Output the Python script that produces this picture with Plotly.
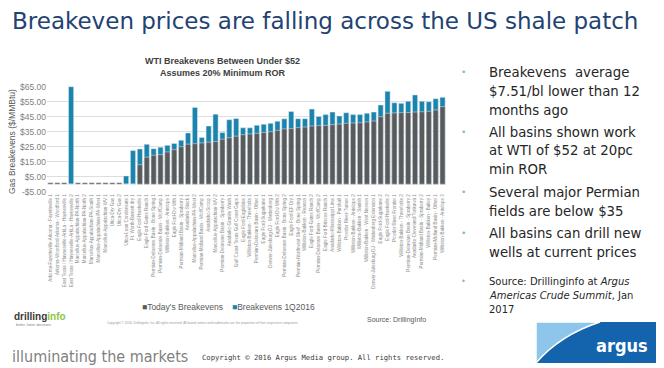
import plotly.graph_objects as go

# The page body adds an 8px margin, so the figure is drawn 8px in from the window corner.
OFF = 8
WIN_W, WIN_H = 664, 368
W, H = WIN_W - OFF, WIN_H - OFF

categories = [
    "Arkoma-Fayetteville-Arkoma - Fayetteville 1", "Arkoma-Woodford-Arkoma - Woodford 1",
    "East Texas / Haynesville-ArkLa - Haynesville 1", "East Texas / Haynesville-ArkLa - Haynesville 2",
    "Marcellus-Appalachian-PA-North 1", "Marcellus-Appalachian-PA-North 2",
    "Marcellus-Appalachian-PA-South 1", "Marcellus-Appalachian-PA-West 1",
    "Marcellus-Appalachian-WV 1", "Utica-Dry Gas 1", "Utica-Dry Gas 2",
    "Utica-Lean Condensate 1", "Ft. Worth-Barnett dry 1", "Eagle Ford-Hawkville 1",
    "Eagle Ford-Gates Ranch 1", "Permian-Delaware Basin - Bone Spring 1",
    "Permian-Delaware Basin - WolfCamp 1", "Williston-Bakken - Antelope 1",
    "Eagle Ford-Dw Wth 1", "Permian-Midland Basin - Spraberry 1", "Anadarko-Stack 1",
    "Marcellus-Appalachian-PA-West 2", "Permian-Midland Basin - WolfCamp 1",
    "Anadarko-Scoop 1", "Marcellus-Appalachian-WV 2", "Permian-Delaware Basin - Spraberry 1",
    "Anadarko-Granite Wash 1", "Gulf Coast-Texas Gulf Coast Gaps 1", "Eagle Ford-Eaglebine 1",
    "Williston-Bakken - Threeforks 1", "Permian-Delaware Basin - Other 1",
    "Eagle Ford-Sugarkane 1", "Denver-Julesburg-DJ - Wattenberg 1", "Eagle Ford-Dw Wth 2",
    "Permian-Delaware Basin - Bone Spring 2", "Eagle Ford-EF Dry 1",
    "Permian-Northwest Shelf - Bone Spring 1", "Williston-Bakken - Reason 1",
    "Eagle Ford-Gates Ranch 2", "Permian-Delaware Basin - WolfCamp 2",
    "Eagle Ford-Briscoe Ranch 1", "Anadarko-Mississippi Lime 1", "Williston-Bakken - Parshall 1",
    "Powder River-Turner 1", "Williston-Bakken - Antelope 2", "Williston-Bakken - Sanish 1",
    "Williston-Bakken - West Nesson 1", "Denver-Julesburg-DJ - Wattenberg Extension 1",
    "Eagle Ford-Sugarkane 2", "Eagle Ford-Hawkville 2", "Powder River-Frontier 1",
    "Williston-Bakken - Threeforks 2", "Permian-Delaware Basin - Spraberry 2",
    "Anadarko-Cleveland/Tonkawa 1", "Permian-Midland Basin - Spraberry 2",
    "Williston-Bakken - Bailey 1", "Permian-Midland Basin - Other 1",
    "Williston-Bakken - Antelope 3",
]

breakevens_1q2016 = [
    None, None, None, 65.0, None, None, None, None, None, None, None,
    5.5, 22.4, 23.5, 26.6, 23.7, 24.6, 25.9, 27.2, 29.3, 34.2,
    51.2, 31.2, 38.8, 46.7, 34.4, 43.0, 43.8, 37.6, 37.6, 39.3,
    40.0, 40.6, 42.0, 43.6, 48.5, 43.7, 43.7, 50.1, 45.2, 46.4,
    48.1, 45.5, 47.7, 46.4, 46.4, 47.3, 48.1, 52.8, 61.9, 54.3,
    53.9, 55.3, 59.5, 55.3, 55.0, 57.0, 57.9,
]

todays_breakevens = [
    1.0, 1.0, 1.0, 0.0, 1.0, 1.0, 1.0, 1.0, 1.0, 1.0, 1.0,
    0.0, 0.0, 13.0, 18.0, 19.3, 19.7, 21.5, 23.0, 25.0, 26.7,
    27.0, 27.5, 28.0, 28.4, 30.0, 31.0, 32.0, 33.0, 33.5, 33.9,
    34.5, 35.0, 35.9, 36.9, 37.1, 37.7, 38.1, 38.8, 39.0, 39.2,
    39.7, 40.1, 40.6, 40.8, 41.0, 41.5, 42.1, 45.0, 47.3, 47.5,
    47.7, 47.8, 48.1, 48.3, 48.6, 49.5, 51.7,
]

y_tick_vals = [-5, 5, 15, 25, 35, 45, 55, 65]
y_tick_text = ["-$5.00", "$5.00", "$15.00", "$25.00", "$35.00", "$45.00", "$55.00", "$65.00"]

bullets = [
    ["Breakevens  average", "$7.51/bl lower than 12", "months ago"],
    ["All basins shown work", "at WTI of $52 at 20pc", "min ROR"],
    ["Several major Permian", "fields are below $35"],
    ["All basins can drill new", "wells at current prices"],
]
source_lines = ["Source: Drillinginfo at <i>Argus</i>", "<i>Americas Crude Summit</i>, Jan", "2017"]

GRAY = "#5a5a5a"
BLUE = "#1b84ad"


def X(px):
    """window pixel x -> paper coordinate"""
    return (px - OFF) / W


def Y(py):
    """window pixel y -> paper coordinate"""
    return 1 - (py - OFF) / H


xs = list(range(len(categories)))

fig = go.Figure()
fig.add_trace(go.Bar(x=xs, y=breakevens_1q2016, marker_color=BLUE, name="Breakevens 1Q2016",
                     showlegend=False))
fig.add_trace(go.Bar(x=xs, y=todays_breakevens, marker_color=GRAY, name="Today's Breakevens",
                     showlegend=False))

# plot area in window pixels
x0, x1 = 47, 446
ymin, ymax = -5.5, 65.5
ppd = 1.5
y_top = 86.7 - (ymax - 65) * ppd
y_bot = 191.7 + (-5 - ymin) * ppd

fig.update_layout(
    width=W, height=H,
    margin=dict(l=0, r=0, t=0, b=0),
    paper_bgcolor="white", plot_bgcolor="white",
    barmode="overlay", bargap=0.25,
    showlegend=False,
    xaxis=dict(domain=[X(x0), X(x1)], range=[-0.5, len(categories) - 0.5],
               tickvals=xs, ticktext=categories, tickangle=-90,
               tickfont=dict(size=4.5, color="#8a8a8a", family="Liberation Sans"),
               showgrid=False, zeroline=False, showline=False, ticks="", automargin=False),
    yaxis=dict(domain=[Y(y_bot), Y(y_top)], range=[ymin, ymax],
               tickvals=y_tick_vals, ticktext=y_tick_text,
               tickfont=dict(size=8.5, color="#7f7f7f", family="Liberation Sans"),
               gridcolor="#dedede", gridwidth=1, zeroline=False, showline=False,
               automargin=False, ticklen=0),
)

ann = []


def add(xp, yp, text, size, color, family="Liberation Sans", xanchor="left", **kw):
    ann.append(dict(x=X(xp), y=Y(yp), xref="paper", yref="paper", xanchor=xanchor,
                    yanchor="middle", text=text, showarrow=False,
                    font=dict(family=family, size=size, color=color), **kw))


# slide title
add(10, 21, "Breakeven prices are falling across the US shale patch", 23, "#1f4372", "DejaVu Sans")
# chart title
add(222, 67, "<b>WTI Breakevens Between Under $52</b><br><b>Assumes 20% Minimum ROR</b>", 9, "#404040",
    xanchor="center")
# y axis title
add(12, 142, "Gas Breakevens ($/MMBtu)", 8.5, "#595959", xanchor="center", textangle=-90)
# legend
add(140, 307, "<span style='color:%s'>■</span>Today's Breakevens" % GRAY, 8.5, "#595959")
add(230, 307, "<span style='color:%s'>■</span>Breakevens 1Q2016" % BLUE, 8.5, "#595959")
# drillinginfo logo and footer texts of the chart image
add(12, 316, "<b>drilling</b><b><span style='color:#8dc63f'>info</span></b>", 10, "#3a3a3a")
add(14, 325, "better, faster decisions", 3.5, "#7f7f7f")
add(105, 323, "Copyright © 2016, Drillinginfo, Inc. All rights reserved. All brand names and trademarks "
              "are the properties of their respective companies.", 3.2, "#9a9a9a")
add(365, 320, "Source: DrillingInfo", 7, "#595959")

# bullets
line_h = 19
y = 72
for group in bullets:
    add(463, y, "•", 9, "#7fb8d6", "DejaVu Sans", xanchor="center")
    for line in group:
        add(487, y, line, 13.3, "#262626", "DejaVu Sans")
        y += line_h
    y += 3
add(463, 281, "•", 8, "#7fb8d6", "DejaVu Sans", xanchor="center")
for i, line in enumerate(source_lines):
    add(487, 281 + i * 14, line, 10, "#262626", "DejaVu Sans")

# slide footer
add(10, 356, "illuminating the markets", 16, "#7f7f7f", "DejaVu Sans Condensed, DejaVu Sans")
add(200, 357, "Copyright © 2016 Argus Media group. All rights reserved.", 7.2, "#404040",
    "DejaVu Sans Mono")
add(650, 345, "<b>argus</b>", 18, "white", "DejaVu Sans Condensed, DejaVu Sans", xanchor="right")

fig.update_layout(annotations=ann)

# argus logo shapes
lx0, lx1, ly0, ly1 = 536, 658, 322, 363
shapes = [
    dict(type="rect", xref="paper", yref="paper", x0=X(lx0), x1=X(lx1), y0=Y(ly1), y1=Y(ly0),
         fillcolor="#1463ad", line=dict(width=0), layer="below"),
    dict(type="path", xref="paper", yref="paper",
         path="M %f,%f L %f,%f Q %f,%f %f,%f Z" % (X(lx0), Y(ly0), X(600), Y(ly0),
                                                   X(560), Y(335), X(lx0), Y(ly1)),
         fillcolor="#8ec5ea", line=dict(color="white", width=1.5), layer="below"),
]
fig.update_layout(shapes=shapes)

fig.write_html("out.html")
